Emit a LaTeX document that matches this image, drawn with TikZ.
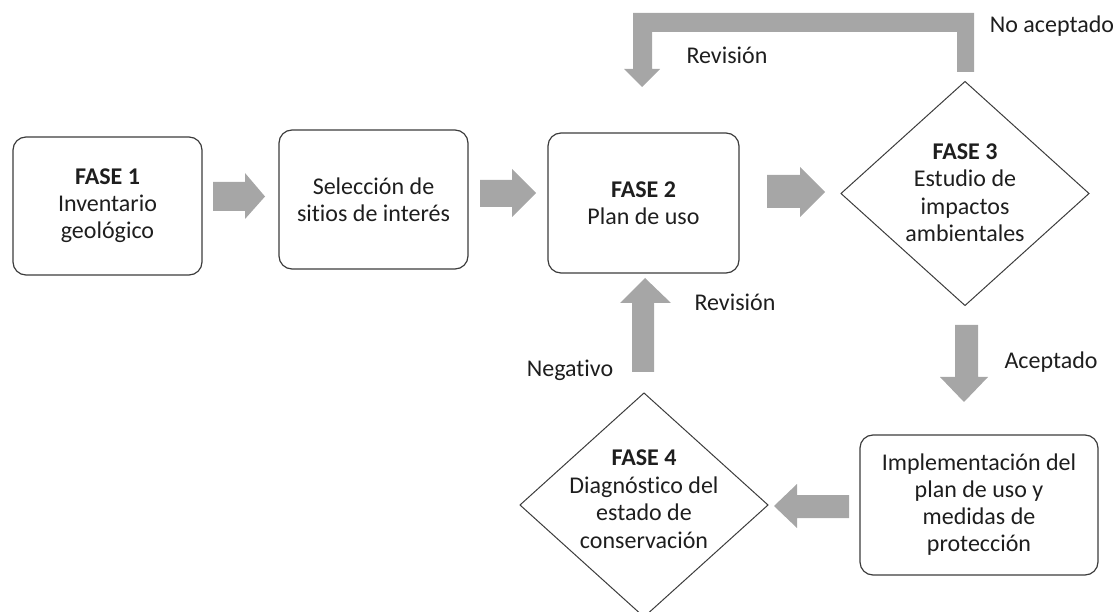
\documentclass[tikz,border=0pt]{standalone}
\usepackage{fontspec}
\setmainfont[Ligatures={NoCommon}]{Carlito}
\usetikzlibrary{shapes.geometric}
\definecolor{agray}{RGB}{166,166,166}
\definecolor{edgec}{RGB}{60,60,60}
\definecolor{txtc}{RGB}{30,30,30}
\begin{document}
\begin{tikzpicture}[x=1pt,y=-1pt,
  box/.style={draw=edgec, line width=1.2pt, rounded corners=13pt, inner sep=0pt, outer sep=0pt, align=center, text=txtc, font=\fontsize{24}{27}\selectfont},
  dia/.style={draw=edgec, line width=1pt, diamond, inner sep=0pt, outer sep=0pt, minimum width=248pt, minimum height=224pt},
  txt/.style={align=center, inner sep=0pt, text=txtc, font=\fontsize{24}{27.5}\selectfont},
  blk/.style={fill=agray, draw=none}]
\useasboundingbox (0,0) rectangle (1120,612);

% boxes
\node[box, minimum width=189pt, minimum height=138pt] (f1) at (107.5,206) {\textbf{FASE 1}\\Inventario\\geológico};
\node[box, minimum width=189pt, minimum height=139pt] (sel) at (373.5,199.5) {Selección de\\sitios de interés};
\node[box, minimum width=191pt, minimum height=140pt] (f2) at (643.5,203) {\textbf{FASE 2}\\Plan de uso};
\node[box, minimum width=238pt, minimum height=140pt] (imp) at (979,505) {Implementación del\\plan de uso y\\medidas de\\protección};

% diamonds
\node[dia] (f3) at (965,193.5) {};
\node[txt] (f3t) at (965,192.5) {\textbf{FASE 3}\\Estudio de\\impactos\\ambientales};
\node[dia] (f4) at (644,505) {};
\node[txt] (f4t) at (644,499) {\textbf{FASE 4}\\Diagnóstico del\\estado de\\conservación};

% block arrows
% f1 -> sel
\fill[blk] (213,182) -- (245,182) -- (245,173) -- (265,196.5) -- (245,219) -- (245,211) -- (213,211) -- cycle;
% sel -> f2
\fill[blk] (480,180) -- (512,180) -- (512,169) -- (536,193) -- (512,217) -- (512,207) -- (480,207) -- cycle;
% f2 -> f3
\fill[blk] (767,175) -- (800,175) -- (800,167) -- (825,192) -- (800,217) -- (800,208) -- (767,208) -- cycle;
% f3 -> imp (down)
\fill[blk] (955,325) -- (978,325) -- (978,377) -- (988,377) -- (964,402) -- (940,377) -- (955,377) -- cycle;
% imp -> f4 (left)
\fill[blk] (849,495) -- (849,518) -- (797,518) -- (797,528) -- (774,506) -- (797,484) -- (797,495) -- cycle;
% f4 -> f2 (up)
\fill[blk] (632,372) -- (654,372) -- (654,303) -- (671,303) -- (645,278) -- (620,303) -- (632,303) -- cycle;
% f3 -> f2 feedback (top)
\fill[blk] (974,72) -- (974,13) -- (633,13) -- (633,69) -- (624,69) -- (642,87) -- (660,69) -- (652,69) -- (652,32) -- (957,32) -- (957,72) -- cycle;

% labels
\node[txt] (lrev1) at (727,55) {Revisión};
\node[txt] (lno) at (1052,26) {No aceptado};
\node[txt] (lrev2) at (735,302) {Revisión};
\node[txt] (lneg) at (570,370) {Negativo};
\node[txt] (lacc) at (1051,362) {Aceptado};
\end{tikzpicture}
\end{document}
